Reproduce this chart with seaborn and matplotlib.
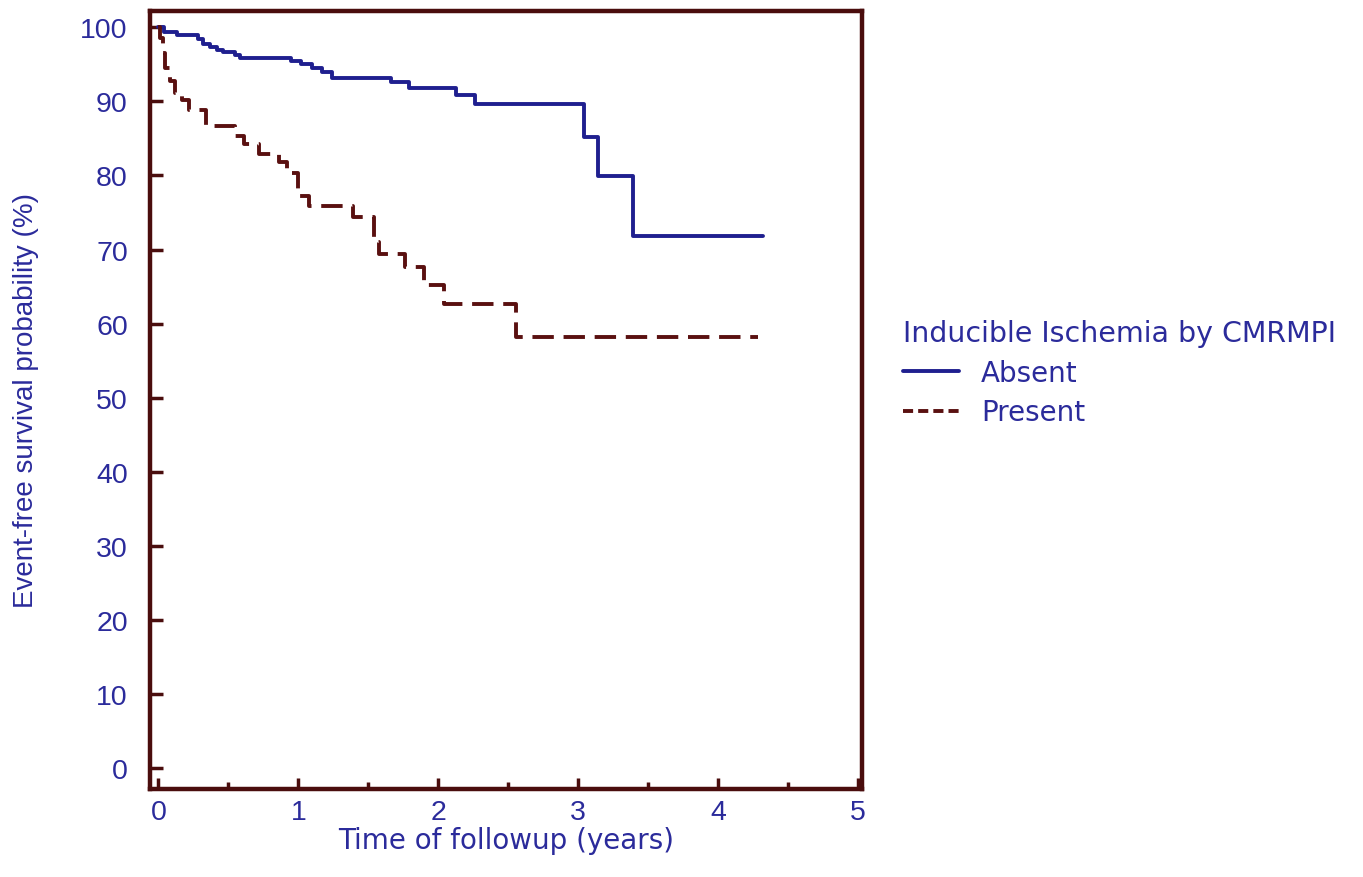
import matplotlib
matplotlib.use("Agg")
import matplotlib.pyplot as plt
import seaborn as sns
import pandas as pd
from matplotlib.lines import Line2D
from matplotlib.ticker import MultipleLocator

# Data
absent_t = [0, 0.04, 0.13, 0.28, 0.32, 0.37, 0.42, 0.46, 0.55, 0.58, 0.95, 1.02,
            1.10, 1.17, 1.24, 1.66, 1.79, 2.13, 2.26, 3.04, 3.14, 3.39, 4.32]
absent_s = [100, 99.3, 98.9, 98.4, 97.8, 97.4, 97.0, 96.7, 96.3, 95.9, 95.4, 95.0,
            94.5, 94.0, 93.2, 92.6, 91.8, 90.8, 89.6, 85.2, 79.9, 71.8, 71.8]

present_t = [0, 0.01, 0.03, 0.05, 0.08, 0.12, 0.17, 0.22, 0.34, 0.55, 0.61, 0.72,
             0.86, 0.92, 1.00, 1.08, 1.39, 1.54, 1.58, 1.76, 1.90, 2.04, 2.56, 4.29]
present_s = [100, 98.5, 96.5, 94.5, 92.8, 91.2, 90.2, 88.9, 86.7, 85.3, 84.2, 82.9,
             81.8, 80.3, 77.2, 75.9, 74.4, 71.0, 69.4, 67.7, 65.2, 62.6, 58.2, 58.2]

groups = ["Absent", "Present"]
legend_title = "Inducible Ischemia by CMRMPI"
x_label = "Time of followup (years)"
y_label = "Event-free survival probability (%)"

BLUE = "#1f1f8f"
RED = "#5a1010"
SPINE = "#4a0d0d"
TEXT = "#2b2b9b"

sns.set_style("white")
plt.rcParams["font.family"] = ["Liberation Sans", "DejaVu Sans"]

fig = plt.figure(figsize=(13.63, 8.78), dpi=100)
ax = fig.add_axes([150/1363, 1-790/878, (862-150)/1363, (790-12)/878])

df_a = pd.DataFrame({"t": absent_t, "s": absent_s})
df_p = pd.DataFrame({"t": present_t, "s": present_s})

sns.lineplot(data=df_a, x="t", y="s", ax=ax, color=BLUE, lw=2.8,
             drawstyle="steps-post", estimator=None, sort=False)
sns.lineplot(data=df_p, x="t", y="s", ax=ax, color=RED, lw=2.8,
             drawstyle="steps-post", estimator=None, sort=False,
             dashes=False, linestyle=(0, (5.5, 2.5)))

ax.set_xlim(-0.06, 5.03)
ax.set_ylim(-2.8, 102.2)
ax.xaxis.set_major_locator(MultipleLocator(1))
ax.xaxis.set_minor_locator(MultipleLocator(0.5))
ax.yaxis.set_major_locator(MultipleLocator(10))

for sp in ax.spines.values():
    sp.set_visible(True)
    sp.set_color(SPINE)
    sp.set_linewidth(3.2)

ax.tick_params(axis="both", which="major", direction="in", color=SPINE,
               width=2.5, labelcolor=TEXT, labelsize=20.5)
ax.tick_params(axis="x", which="major", length=8, pad=7)
ax.tick_params(axis="y", which="major", length=9, pad=16)
ax.tick_params(axis="x", which="minor", direction="in", color=SPINE,
               width=2.5, length=5)
ax.tick_params(axis="x", which="both", bottom=True)
ax.tick_params(axis="y", which="both", left=True)

ax.set_xlabel(x_label, color=TEXT, fontsize=20, labelpad=1,
              family=["DejaVu Sans"])
ax.set_ylabel(y_label, color=TEXT, fontsize=20, labelpad=30)

handles = [Line2D([], [], color=BLUE, lw=2.8),
           Line2D([], [], color=RED, lw=2.8, linestyle=(0, (2.6, 1.3)))]
leg = fig.legend(handles, groups, title=legend_title, loc="upper left",
                 bbox_to_anchor=(903/1363, 1-320/878), frameon=False,
                 borderpad=0, borderaxespad=0,
                 prop={"family": "DejaVu Sans", "size": 20},
                 title_fontproperties={"family": "DejaVu Sans", "size": 20.5},
                 handlelength=2.0, handletextpad=0.8, labelspacing=0.42,
                 alignment="left")
for t in leg.get_texts():
    t.set_color(TEXT)
leg.get_title().set_color(TEXT)

fig.savefig("out.png", dpi=100)
